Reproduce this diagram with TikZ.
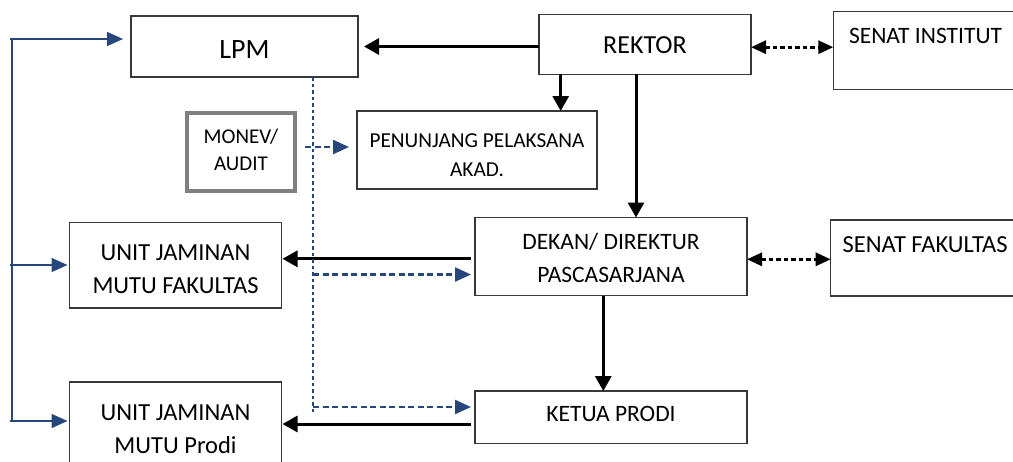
\documentclass[tikz,border=0pt]{standalone}
\usepackage{fontspec}
\setmainfont{Carlito}
\usetikzlibrary{arrows.meta,calc}
\definecolor{navy}{HTML}{26467C}
\definecolor{boxline}{HTML}{383838}
\definecolor{monevgray}{HTML}{808080}
\newcommand\bxt[2][0pt]{\raisebox{-#1}[\height][\depth]{\begin{tabular}{@{}c@{}}#2\end{tabular}}}
\begin{document}
\begin{tikzpicture}[x=1pt,y=-1pt,
  box/.style={draw=boxline, line width=1.3pt, rectangle, inner sep=0pt, outer sep=0pt, font=\fontsize{23.5}{32}\selectfont},
  monevbox/.style={draw=monevgray, line width=3.5pt, rectangle, inner sep=0pt, outer sep=0pt, font=\fontsize{21}{27}\selectfont},
  txt/.style={inner sep=0pt, outer sep=0pt, font=\fontsize{23.5}{32}\selectfont},
  blk/.style={line width=3pt, -{Triangle[length=15pt,width=16pt]}},
  dblk/.style={line width=3pt, dash pattern=on 4.5pt off 3pt, {Triangle[length=15pt,width=13pt]}-{Triangle[length=15pt,width=13pt]}},
  bline/.style={draw=navy, line width=1.6pt},
  barr/.style={draw=navy, line width=1.6pt, -{Triangle[length=16pt,width=14pt,fill=navy]}},
  bdot/.style={draw=navy, line width=2pt, dash pattern=on 3.5pt off 3pt},
  bdash/.style={draw=navy, line width=2.3pt, dash pattern=on 6pt off 3.5pt, -{Triangle[length=16pt,width=14pt,fill=navy]}}
]
\useasboundingbox (0,0) rectangle (1013,461);
\clip (0,0) rectangle (1013,461);
\fill[white] (0,0) rectangle (1013,461);

% boxes
\node[box, minimum width=227pt, minimum height=61pt, font=\fontsize{28}{32}\selectfont] (lpm) at (244.5,46.5) {\bxt[6pt]{LPM}};
\node[box, minimum width=212pt, minimum height=60pt, font=\fontsize{26}{32}\selectfont] (rektor) at (645,44.2) {\bxt[3pt]{REKTOR}};
\node[box, minimum width=200pt, minimum height=77.5pt, anchor=north west] (si) at (833.3,11.7) {};
\node[txt, anchor=west] (sit) at (849,36) {SENAT INSTITUT};
\node[monevbox, minimum width=108pt, minimum height=78pt] (monev) at (241,152) {\bxt{MONEV/\\AUDIT}};
\node[box, minimum width=240pt, minimum height=78pt, font=\fontsize{21.3}{29}\selectfont] (pen) at (477,150) {\bxt[6pt]{PENUNJANG PELAKSANA\\AKAD.}};
\node[box, minimum width=272pt, minimum height=78pt, font=\fontsize{23.5}{32.5}\selectfont] (dekan) at (611,256.5) {\bxt[3pt]{DEKAN/ DIREKTUR\\PASCASARJANA}};
\node[box, minimum width=200pt, minimum height=76pt, anchor=north west] (sf) at (830.7,220) {};
\node[txt, anchor=west, font=\fontsize{24.5}{32}\selectfont] (sft) at (842.7,245) {SENAT FAKULTAS};
\node[box, minimum width=272pt, minimum height=52.3pt] (ketua) at (611,417.2) {\bxt[-2pt]{KETUA PRODI}};
\node[box, minimum width=212pt, minimum height=85.3pt, font=\fontsize{24.5}{32.5}\selectfont] (ujmf) at (175.5,265.3) {\bxt[5pt]{UNIT JAMINAN\\MUTU FAKULTAS}};
\node[box, minimum width=212pt, minimum height=96pt, font=\fontsize{24.5}{33}\selectfont] (ujmp) at (175.5,430) {\bxt{UNIT JAMINAN\\MUTU Prodi}};

% black connectors
\draw[blk, shorten >=6pt] (rektor.west |- lpm.east) -- (lpm.east);
\coordinate (r1) at ($(rektor.south west)+(21.7,0)$);
\draw[blk] (r1) -- (r1 |- pen.north);
\coordinate (r2) at ($(rektor.south)+(-9,0)$);
\draw[blk] (r2) -- (r2 |- dekan.north);
\coordinate (r3) at ($(rektor.east)+(0,3)$);
\draw[dblk] (r3) -- (r3 -| si.west);
\coordinate (d1) at ($(dekan.west)+(0,2.3)$);
\draw[blk, shorten >=1pt] ($(d1)+(-4,0)$) -- (d1 -| ujmf.east);
\coordinate (d2) at ($(dekan.east)+(0,2.8)$);
\draw[dblk] (d2) -- (d2 -| sf.west);
\coordinate (d3) at ($(dekan.south)+(-7.7,0)$);
\draw[blk] (d3) -- (d3 |- ketua.north);
\coordinate (k1) at ($(ketua.west)+(0,6.8)$);
\draw[blk, shorten >=1pt] ($(k1)+(-4,0)$) -- (k1 -| ujmp.east);

% blue monitoring lines
\coordinate (l1) at ($(lpm.south)+(68.5,0)$);
\coordinate (vend) at ($(l1)+(0,336)$);
\draw[bdot] (l1) -- (vend);
\coordinate (vf) at ($(l1)+(0,197.5)$);
\draw[bdash, shorten >=4pt] (vf) -- (vf -| dekan.west);
\coordinate (vp) at ($(l1)+(0,330)$);
\draw[bdash, shorten >=4pt] (vp) -- (vp -| ketua.west);
\coordinate (m1) at ($(pen.west)+(0,-3)$);
\draw[bdash, shorten <=10pt, shorten >=8pt] (m1 -| monev.east) -- (m1);

% blue bracket
\coordinate (b1) at (12,39);
\coordinate (b2) at (12,265);
\coordinate (b3) at (12,421);
\draw[bline] (b1) -- (b3);
\draw[barr, shorten >=8pt] ($(b1)+(-2,0)$) -- (b1 -| lpm.west);
\draw[barr, shorten >=2pt] ($(b2)+(-2,0)$) -- (b2 -| ujmf.west);
\draw[barr, shorten >=2pt] ($(b3)+(-2,0)$) -- (b3 -| ujmp.west);
\end{tikzpicture}
\end{document}
